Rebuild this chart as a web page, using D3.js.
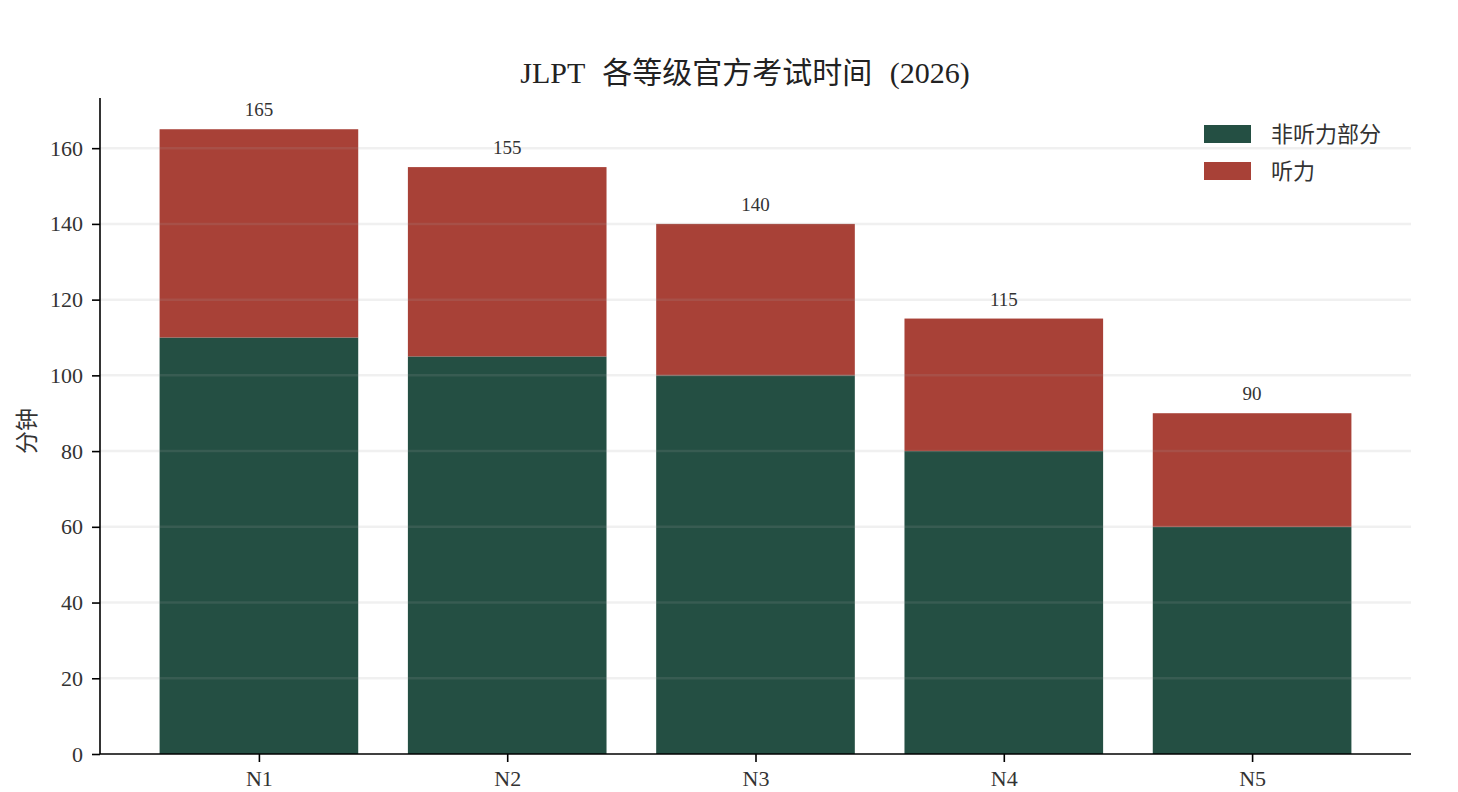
<!DOCTYPE html>
<html>
<head>
<meta charset="utf-8">
<script src="https://cdn.jsdelivr.net/npm/d3@7"></script>
<style>
  body { margin: 0; background: #fff; }
  svg text { font-family: "Liberation Serif", "Noto Sans CJK SC", serif; }
</style>
</head>
<body>
<svg id="chart" width="1458" height="792"></svg>
<script>
var levels = ['N1', 'N2', 'N3', 'N4', 'N5'];
var nonListening = [110, 105, 100, 80, 60];
var listening = [55, 50, 40, 35, 30];
var seriesNames = ['非听力部分', '听力'];
var seriesColors = ['#244f43', '#a84137'];
var yTicks = [0, 20, 40, 60, 80, 100, 120, 140, 160];

var svg = d3.select('#chart');
var plotLeft = 100, plotRight = 1411, plotTop = 98, plotBottom = 754;

var totals = levels.map(function (d, i) { return nonListening[i] + listening[i]; });

// linear x over category index, matplotlib-style margins
var x = d3.scaleLinear().domain([-0.64, 4.64]).range([plotLeft, plotRight]);
var y = d3.scaleLinear().domain([0, d3.max(totals) * 1.05]).range([plotBottom, plotTop]);
var barW = x(0.8) - x(0);

var stacked = levels.map(function (d, i) {
    return [
        { key: 0, y0: 0, y1: nonListening[i], i: i },
        { key: 1, y0: nonListening[i], y1: nonListening[i] + listening[i], i: i }
    ];
});

svg.append('g').selectAll('g')
    .data(stacked)
    .enter().append('g')
    .selectAll('rect')
    .data(function (d) { return d; })
    .enter().append('rect')
    .attr('x', function (d) { return x(d.i) - barW / 2; })
    .attr('width', barW)
    .attr('y', function (d) { return y(d.y1); })
    .attr('height', function (d) { return y(d.y0) - y(d.y1); })
    .style('fill', function (d) { return seriesColors[d.key]; });

// grid on top, faint
svg.append('g').selectAll('line')
    .data(yTicks.slice(1))
    .enter().append('line')
    .attr('x1', plotLeft).attr('x2', plotRight)
    .attr('y1', function (d) { return y(d); })
    .attr('y2', function (d) { return y(d); })
    .attr('stroke', '#a0a0a0')
    .attr('stroke-opacity', 0.16)
    .attr('stroke-width', 2.5);

// value labels
svg.append('g').selectAll('text')
    .data(totals)
    .enter().append('text')
    .attr('x', function (d, i) { return x(i); })
    .attr('y', function (d) { return y(d) - 13; })
    .attr('text-anchor', 'middle')
    .style('font-size', '19px')
    .style('fill', '#333')
    .text(function (d) { return d; });

// axes
var yAxis = d3.axisLeft(y).tickValues(yTicks).tickSize(8).tickPadding(9);
var gy = svg.append('g').attr('transform', 'translate(' + plotLeft + ',0)').call(yAxis);
var xAxis = d3.axisBottom(x).tickValues(d3.range(levels.length))
    .tickFormat(function (d) { return levels[d]; }).tickSize(8).tickPadding(8);
var gx = svg.append('g').attr('transform', 'translate(0,' + plotBottom + ')').call(xAxis);

[gx, gy].forEach(function (g) {
    g.select('.domain').attr('stroke', '#000').attr('stroke-width', 1.6);
    g.selectAll('.tick line').attr('stroke', '#000').attr('stroke-width', 1.6);
    g.selectAll('.tick text').style('font-size', '22px').style('fill', '#333')
        .style('font-family', '"Liberation Serif", serif');
});
gy.select('.domain').attr('d', 'M0,' + plotTop + 'V' + plotBottom);
gx.select('.domain').attr('d', 'M' + plotLeft + ',0H' + plotRight);

// y label
svg.append('text')
    .attr('transform', 'translate(27,431) rotate(-90)')
    .attr('text-anchor', 'middle')
    .attr('dominant-baseline', 'central')
    .style('font-size', '23px')
    .style('fill', '#333')
    .text('分钟');

// title
svg.append('text')
    .attr('x', 745)
    .attr('y', 83)
    .attr('text-anchor', 'middle')
    .style('font-size', '30px')
    .style('word-spacing', '10px')
    .style('fill', '#222')
    .text('JLPT 各等级官方考试时间 (2026)');

// legend
var legend = svg.append('g').attr('transform', 'translate(1204,125)');
var items = legend.selectAll('g')
    .data(seriesNames)
    .enter().append('g')
    .attr('transform', function (d, i) { return 'translate(0,' + (i * 37) + ')'; });
items.append('rect')
    .attr('width', 47).attr('height', 18)
    .style('fill', function (d, i) { return seriesColors[i]; });
items.append('text')
    .attr('x', 67).attr('y', 17)
    .style('font-size', '22px')
    .style('fill', '#333')
    .text(function (d) { return d; });
</script>
</body>
</html>
